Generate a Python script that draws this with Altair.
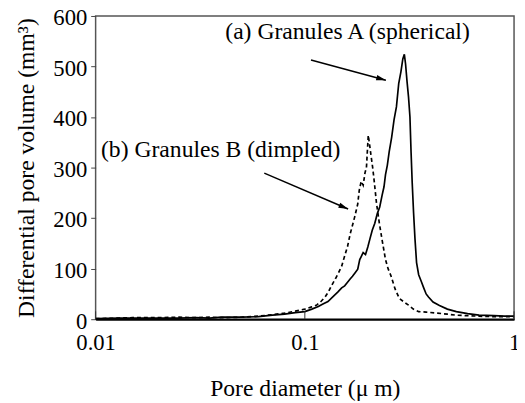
import altair as alt
import pandas as pd

# Granules A (spherical) - solid
A_x = [0.010, 0.013, 0.016, 0.020, 0.025, 0.030, 0.035, 0.040, 0.050, 0.060, 0.070, 0.080,
       0.090, 0.100, 0.108, 0.116, 0.122, 0.129, 0.136, 0.144, 0.150, 0.155, 0.160, 0.165,
       0.169, 0.174, 0.179, 0.183, 0.186, 0.190, 0.195, 0.200, 0.205, 0.210, 0.216, 0.222,
       0.228, 0.234, 0.239, 0.243, 0.248, 0.253, 0.260, 0.267, 0.274, 0.281, 0.288, 0.294,
       0.299, 0.303, 0.308, 0.313, 0.318, 0.322, 0.326, 0.331, 0.336, 0.342, 0.350, 0.360,
       0.370, 0.380, 0.390, 0.410, 0.440, 0.480, 0.530, 0.600, 0.680, 0.800, 0.900, 1.000]
A_y = [1, 2, 2, 2, 2, 3, 2, 4, 4, 5, 8, 10,
       13, 15, 20, 25, 30, 35, 44, 54, 62, 66, 73, 80,
       85, 92, 99, 118, 124, 132, 128, 143, 160, 176, 190, 209,
       222, 245, 262, 286, 305, 331, 360, 395, 420, 466, 490, 515,
       524, 505, 470, 440, 400, 330, 270, 210, 160, 112, 88, 75,
       62, 50, 44, 34, 27, 20, 15, 11, 8, 7, 6, 6]

# Granules B (dimpled) - dashed
B_x = [0.010, 0.015, 0.020, 0.025, 0.030, 0.035, 0.040, 0.050, 0.060, 0.070, 0.080, 0.090,
       0.100, 0.107, 0.114, 0.120, 0.125, 0.130, 0.134, 0.140, 0.145, 0.150, 0.155, 0.160,
       0.165, 0.170, 0.173, 0.176, 0.179, 0.182, 0.186, 0.190, 0.194, 0.197, 0.201, 0.204,
       0.207, 0.211, 0.215, 0.220, 0.227, 0.234, 0.243, 0.250, 0.258, 0.270, 0.283, 0.300,
       0.313, 0.330, 0.350, 0.380, 0.430, 0.480, 0.530, 0.600, 0.680, 0.800, 0.900, 1.000]
B_y = [1, 3, 3, 4, 3, 4, 3, 4, 6, 9, 12, 16,
       20, 24, 28, 36, 44, 55, 66, 80, 92, 105, 125, 144,
       170, 190, 202, 215, 228, 255, 273, 265, 290, 300, 364, 345,
       325, 300, 270, 230, 190, 157, 118, 100, 86, 60, 41, 33,
       28, 20, 15, 14, 12, 10, 8, 7, 6, 5, 5, 5]

# annotations
label_text = ["(a) Granules A (spherical)", "(b) Granules B (dimpled)"]
label_x = [0.16, 0.0396]
label_y = [569, 335]
arrow_x = [0.107, 0.064]
arrow_y = [513, 289]
arrow_x2 = [0.244, 0.161]
arrow_y2 = [473, 218]
arrow_angle = [105, 113]

x_ticks = [0.01, 0.1, 1]
y_ticks = [0, 100, 200, 300, 400, 500, 600]

FONT = "Liberation Serif"
W, H = 425, 308

dfA = pd.DataFrame({"x": A_x, "y": A_y})
dfB = pd.DataFrame({"x": B_x, "y": B_y})
dfL = pd.DataFrame({"t": label_text, "x": label_x, "y": label_y})
dfR = pd.DataFrame({"x": arrow_x, "y": arrow_y, "x2": arrow_x2, "y2": arrow_y2, "a": arrow_angle})
dfT = pd.DataFrame({"x": x_ticks})

xs = alt.Scale(type="log", domain=[0.01, 1])
ys = alt.Scale(domain=[0, 600])

xenc = alt.X("x:Q", scale=xs, title="Pore diameter (\u03bc m)", axis=alt.Axis(
    values=x_ticks, format="~g", ticks=False, grid=False, domain=True,
    domainColor="black", domainWidth=2, labelPadding=13, labelFlush=False,
    titlePadding=22))
yenc = alt.Y("y:Q", scale=ys, title="Differential pore volume (mm\u00b3)", axis=alt.Axis(
    values=y_ticks, ticks=True, tickSize=5, tickColor="#444", grid=False,
    domain=False, labelPadding=4, labelOffset=2, titlePadding=15))

lineA = alt.Chart(dfA).mark_line(color="black", strokeWidth=1.7).encode(x=xenc, y=yenc)
lineB = alt.Chart(dfB).mark_line(color="black", strokeWidth=1.7, strokeDash=[4, 3]).encode(
    x=alt.X("x:Q", scale=xs), y=alt.Y("y:Q", scale=ys))

ticks_in = alt.Chart(dfT).mark_rule(color="#333", strokeWidth=1).encode(
    x=alt.X("x:Q", scale=xs), y=alt.value(H - 8), y2=alt.value(H))

arrows = alt.Chart(dfR).mark_rule(color="black", strokeWidth=1.5).encode(
    x=alt.X("x:Q", scale=xs), y=alt.Y("y:Q", scale=ys), x2="x2:Q", y2="y2:Q")
heads = alt.Chart(dfR).mark_point(
    shape="M0,0 L-0.45,1.6 L0.45,1.6 Z", filled=True, color="black", size=150, opacity=1
).encode(x=alt.X("x2:Q", scale=xs), y=alt.Y("y2:Q", scale=ys), angle=alt.Angle("a:Q", scale=None))

labels = alt.Chart(dfL).mark_text(align="center", baseline="middle").encode(
    x=alt.X("x:Q", scale=xs), y=alt.Y("y:Q", scale=ys), text="t:N")

chart = alt.layer(lineA, lineB, ticks_in, arrows, heads, labels).properties(
    width=W, height=H,
    autosize=alt.AutoSizeParams(type="none"),
    padding={"left": 89, "top": 5, "right": 3, "bottom": 82},
    background="white",
).configure(font=FONT).configure_view(stroke="#555", strokeWidth=1.5).configure_axis(
    labelFont=FONT, labelFontSize=23, labelColor="black",
    titleFont=FONT, titleFontSize=24, titleFontWeight="normal", titleColor="black",
).configure_text(font=FONT, fontSize=24, color="black")

chart.save("out.html", embed_options={"renderer": "svg", "actions": False})
